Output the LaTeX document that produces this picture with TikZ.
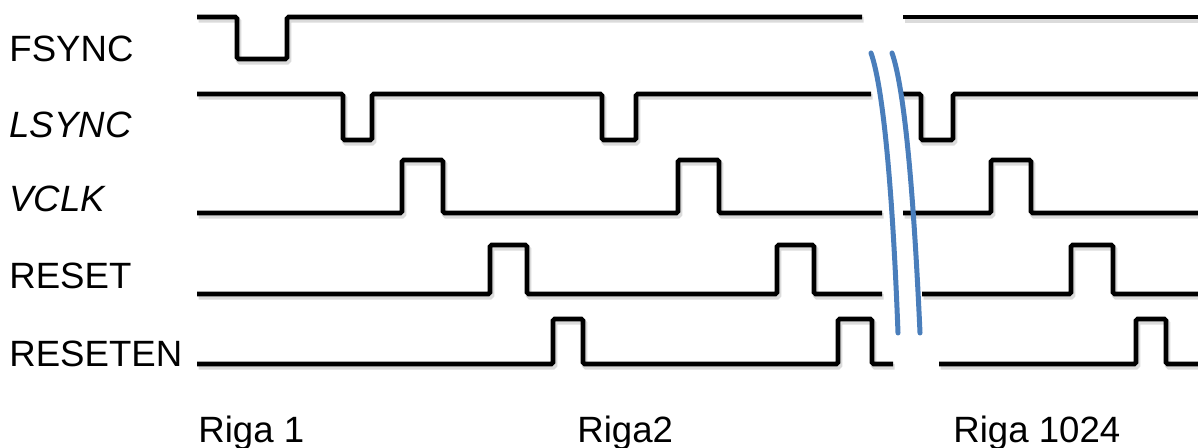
\documentclass[tikz,border=0pt]{standalone}
\usepackage{fontspec}
\setmainfont{Liberation Sans}
\usetikzlibrary{calc,positioning}
\definecolor{brkblue}{HTML}{4A7EBB}

\begin{document}
\begin{tikzpicture}[x=0.5pt,y=-0.5pt,
sig/.style={line width=2.3pt,black,rounded corners=0.8pt,
    preaction={draw=black!14,line width=2.8pt,
    transform canvas={shift={(0.8pt,-1.4pt)}}}},
brk/.style={line width=2.5pt,brkblue,line cap=round},
lbl/.style={anchor=base west,inner sep=0pt,
    font=\fontsize{18.3}{22}\selectfont}]

\useasboundingbox (0,0) rectangle (1198,448);

\node[lbl](fsync) at (9,62) {FSYNC};
\node[lbl](lsync) at (9,138) {\itshape LSYNC};
\node[lbl](vclk) at (9,212) {\itshape VCLK};
\node[lbl](reset) at (9,289) {RESET};
\node[lbl](reseten) at (9,366) {RESETEN};
\node[lbl](riga1) at (198,442) {Riga 1};
\node[lbl](riga2) at (577,442) {Riga2};
\node[lbl](riga1024) at (953,442) {Riga 1024};

% FSYNC
\draw[sig] (197,17) -| (237,59) -| (287,17) -- (862,17);
\draw[sig] (903,17) -- (1198,17);
% LSYNC
\draw[sig] (197,94) -| (343,140) -| (372,94) -| (602,140) -| (636,94) -- (871,94);
\draw[sig] (902,94) -| (921,140) -| (953,94) -- (1198,94);
% VCLK
\draw[sig] (197,213) -| (402,160) -| (443,213) -| (678,160) -| (719,213) -- (882,213);
\draw[sig] (903,213) -| (991,160) -| (1031,213) -- (1198,213);
% RESET
\draw[sig] (197,294) -| (490,245) -| (527,294) -| (777,245) -| (814,294) -- (882,294);
\draw[sig] (922,294) -| (1071,245) -| (1113,294) -- (1198,294);
% RESETEN
\draw[sig] (197,364) -| (553,319) -| (583,364) -| (838,319) -| (872,364) -- (893,364);
\draw[sig] (939,364) -| (1136,319) -| (1166,364) -- (1198,364);

% break marks
\draw[brk] (871,53) .. controls (884,90) and (893,200) .. (898,333);
\draw[brk] (892,53) .. controls (905,90) and (914,200) .. (920,333);

\end{tikzpicture}
\end{document}
